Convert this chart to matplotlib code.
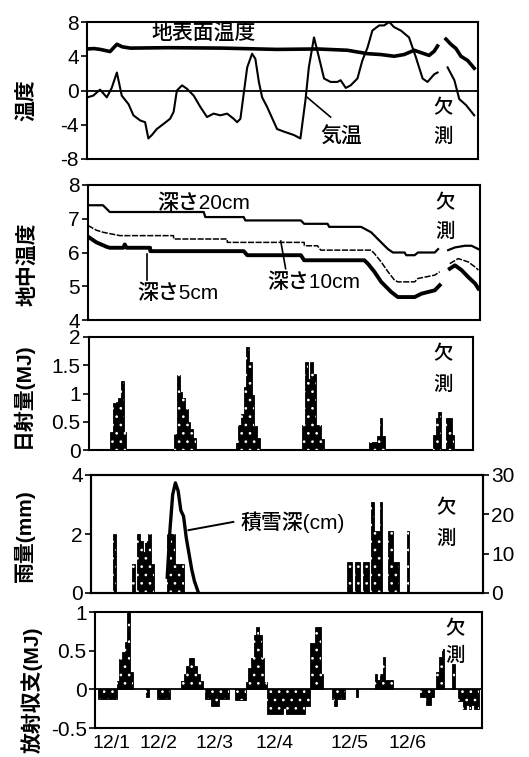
import numpy as np
import matplotlib
matplotlib.use('Agg')
import matplotlib.pyplot as plt

plt.rcParams['font.family'] = ['Liberation Sans', 'Noto Sans CJK JP', 'DejaVu Sans']
plt.rcParams['hatch.linewidth'] = 0.7

# ---------------- data (time in hours from 12/1 00:00) ----------------
air_h = [0.1, 2.3, 4.8, 7.3, 9.1, 11.0, 12.8, 15.3, 17.1, 19.6, 21.4, 22.6, 23.9, 25.7, 28.2, 30.6,
         31.9, 33.1, 35.0, 36.8, 39.3, 41.7, 44.2, 46.6, 49.1, 51.6, 54.0, 55.3, 56.5, 57.7, 59.0,
         60.8, 62.0, 63.3, 64.5, 66.3, 70.0, 72.5, 76.2, 78.6, 80.5, 81.7, 83.6, 85.4, 87.3, 89.7,
         92.2, 93.4, 95.3, 97.1, 99.6, 101.4, 103.3, 105.1, 107.6, 109.4, 111.3, 113.1, 115.6,
         118.6, 121.1, 123.6, 125.4, 127.9, 129.1, np.nan, 132.8, 135.3, 137.1, 139.6, 142.6]
air_t = [-0.8, -0.6, 0.1, -0.8, 0.3, 2.1, -0.6, -1.6, -2.9, -3.5, -3.7, -5.6, -5.2, -4.5, -3.9, -3.3,
         -2.5, 0.0, 0.6, 0.2, -0.6, -1.9, -3.1, -2.7, -2.9, -2.7, -3.3, -3.7, -3.3, -0.4, 2.7,
         4.3, 3.7, 1.0, -0.8, -1.9, -4.5, -4.8, -5.2, -5.6, -1.0, 2.7, 6.2, 3.9, 1.4, 1.0,
         1.0, 1.2, 0.3, 0.6, 1.4, 3.5, 5.0, 7.0, 7.6, 7.6, 8.0, 7.4, 7.0,
         6.2, 3.9, 1.4, 1.0, 1.9, 2.1, np.nan, 2.7, 1.2, -1.0, -1.7, -2.9]

surf_h = [0.1, 2.5, 4.9, 8.5, 11.0, 13.0, 16.0, 30.0, 50.0, 70.0, 85.0, 95.9, 99.6, 103.3, 108.2,
          113.1, 116.8, 120.5, 123.2, 126.0, 127.9, 129.1, np.nan, 132.2, 134.0, 135.9, 137.7,
          140.2, 142.6]
surf_t = [4.85, 4.9, 4.8, 4.55, 5.4, 5.1, 4.95, 5.0, 4.95, 4.8, 4.85, 4.7, 4.5, 4.3, 4.2,
          4.0, 4.2, 4.7, 4.4, 4.1, 4.6, 5.2, np.nan, 6.0, 5.4, 4.9, 4.0, 3.5, 2.6]

d20_h = [0, 5.5, 8.0, 42.5, 43.1, 57.2, 57.8, 78.2, 79.4, 88.0, 88.6, 100.3, 104.0, 107.7, 110.2,
         112.0, 116.3, 116.9, 120.0, 121.2, 127.4, 128.6, np.nan, 132.3, 134.8, 138.5, 140.9, 143.4]
d20_t = [7.4, 7.4, 7.2, 7.2, 7.05, 7.05, 6.95, 6.95, 6.85, 6.85, 6.76, 6.76, 6.6, 6.3, 6.1,
         6.0, 6.0, 5.92, 5.92, 6.0, 6.0, 6.1, np.nan, 6.07, 6.15, 6.2, 6.2, 6.1]

d10_h = [0, 3.1, 5.5, 11.7, 31.4, 31.5, 51.1, 51.2, 79.4, 79.5, 84.3, 85.5, 104.0, 105.2, 107.7,
         110.2, 112.6, 113.8, 120.0, 121.2, 127.4, 129.2, np.nan, 132.9, 136.0, 139.7, 142.2, 143.4]
d10_t = [6.8, 6.66, 6.6, 6.5, 6.5, 6.4, 6.4, 6.3, 6.3, 6.2, 6.2, 6.07, 6.07, 5.97, 5.72,
         5.43, 5.18, 5.13, 5.13, 5.23, 5.33, 5.43, np.nan, 5.67, 5.82, 5.72, 5.57, 5.48]

d5_h = [0, 3.1, 6.8, 8.0, 13.0, 13.5, 14.2, 22.8, 22.9, 57.2, 58.5, 78.2, 79.4, 101.5, 102.8,
        105.2, 107.7, 111.4, 113.8, 120.0, 122.5, 127.4, 129.2, np.nan, 132.9, 134.8, 137.2,
        139.7, 142.2, 143.4]
d5_t = [6.47, 6.3, 6.17, 6.14, 6.14, 6.24, 6.14, 6.14, 6.04, 6.04, 5.92, 5.92, 5.77, 5.77, 5.67,
        5.43, 5.13, 4.83, 4.68, 4.68, 4.78, 4.88, 5.03, np.nan, 5.52, 5.62, 5.48,
        5.27, 5.08, 4.93]

sol_h = [8, 9, 10, 11, 12, 13,
         32, 33, 34, 35, 36, 37, 38, 39,
         55, 56, 57, 58, 59, 60, 61, 62, 63,
         80, 81, 82, 83, 84, 85, 86, 87,
         105, 106, 107, 108, 109, 110,
         129, 130, 131, 134, 135, 136]
sol_v = [0.32, 0.83, 0.85, 0.92, 1.22, 0.32,
         0.28, 1.33, 1.03, 0.92, 0.72, 0.5, 0.38, 0.22,
         0.12, 0.45, 0.63, 1.12, 1.83, 1.55, 0.97, 0.42, 0.22,
         0.45, 1.55, 1.25, 1.55, 1.35, 0.45, 0.45, 0.2,
         0.15, 0.15, 0.15, 0.25, 0.57, 0.25,
         0.27, 0.57, 0.68, 0.57, 0.57, 0.27]

rain_h = [8, 15, 17, 18, 19, 20, 21, 22, 28, 29, 30, 31, 32, 33,
          94, 95, 97, 98, 100, 101, 103, 104, 105, 106, 109, 110, 111, 112, 116]
rain_v = [2.0, 1.0, 2.0, 1.75, 1.4, 1.75, 2.0, 1.0, 2.0, 2.0, 2.0, 1.0, 1.0, 1.0,
          1.05, 1.05, 1.05, 1.05, 1.05, 1.05, 3.1, 2.1, 2.1, 3.1, 2.1, 2.1, 1.05, 1.05, 2.1]

snow_h = [28, 29, 30, 31, 32, 33, 34, 35, 36, 37, 38, 39.5]
snow_cm = [4, 16, 25, 28, 26, 21, 19.5, 14, 10, 6, 3, 0]

rad_h = [1, 2, 3, 4, 5, 6, 7,
         8, 9, 10, 11, 12, 13,
         19, 23, 24, 25, 26, 27,
         32, 33, 34, 35, 36, 37, 38, 39,
         41, 42, 43, 44, 45, 46, 47, 48, 49, 52, 53, 54, 55,
         56, 57, 58, 59, 60, 61, 62, 63,
         64, 65, 66, 67, 68, 69, 70, 71, 72, 73, 74, 75, 76, 77, 78, 79,
         80, 81, 82, 83, 84,
         88, 89, 90, 91, 92, 97,
         104, 105, 106, 107, 108, 109, 110,
         121, 122, 123, 124, 125,
         127, 128, 129, 133,
         135, 136, 137, 138, 139, 140, 141, 142]
rad_v = [-0.12, -0.12, -0.12, -0.12, -0.12, -0.12, -0.12,
         0.11, 0.39, 0.48, 0.61, 1.0, 0.22,
         -0.1, -0.12, -0.12, -0.12, -0.12, -0.12,
         0.11, 0.2, 0.3, 0.4, 0.4, 0.3, 0.2, 0.11,
         -0.13, -0.13, -0.22, -0.22, -0.22, -0.13, -0.13, -0.13, -0.13, -0.14, -0.14, -0.14, -0.14,
         0.1, 0.28, 0.4, 0.7, 0.8, 0.7, 0.4, 0.1,
         -0.32, -0.32, -0.32, -0.32, -0.32, -0.32, -0.24, -0.32, -0.32, -0.32, -0.32, -0.32,
         -0.32, -0.32, -0.22, -0.22,
         0.6, 0.6, 0.8, 0.8, 0.2,
         -0.12, -0.22, -0.12, -0.12, -0.12, -0.1,
         0.2, 0.12, 0.2, 0.42, 0.12, 0.12, 0.12,
         -0.1, -0.1, -0.2, -0.2, -0.1,
         0.22, 0.42, 0.52, 0.33,
         -0.15, -0.15, -0.25, -0.2, -0.25, -0.2, -0.25, -0.25]

date_labels = ['12/1', '12/2', '12/3', '12/4', '12/5', '12/6']
date_pos = [0.25, 0.99, 1.86, 2.78, 3.94, 4.84]   # days, where the labels sit

# ---------------- figure ----------------
W, H = 529, 757
fig = plt.figure(figsize=(W / 100, H / 100), dpi=100)
TICK_FS = 15


def add_ax(l, t, r, b):
    return fig.add_axes([l / W, 1 - b / H, (r - l) / W, (b - t) / H])


def style(ax, yt, ylab, yl):
    ax.set_xlim(0, 6)
    ax.set_ylim(*yl)
    ax.set_yticks(yt)
    ax.set_yticklabels(ylab)
    ax.tick_params(axis='y', direction='out', length=4, width=1.2, labelsize=TICK_FS, pad=2)
    ax.tick_params(axis='x', length=0, labelbottom=False)
    for s in ax.spines.values():
        s.set_linewidth(1.5)


def days(h):
    return np.asarray(h, dtype=float) / 24.0


def stip_bars(ax, h, v):
    x = days(h)
    ax.bar(x, v, width=1 / 24, align='edge', color='black', edgecolor='black',
           linewidth=0.6, zorder=2)
    ax.bar(x, v, width=1 / 24, align='edge', color='none', edgecolor='white',
           hatch='..', linewidth=0, zorder=3)


def ylabel(x, y, s):
    fig.text(x / W, 1 - y / H, s, rotation=90, ha='center', va='center',
             fontsize=15, fontweight='bold')


def kesoku(ax, x, y1, y2, fs=14):
    ax.text(x, y1, '欠', ha='center', va='center', fontsize=fs, fontweight='medium', zorder=5)
    ax.text(x, y2, '測', ha='center', va='center', fontsize=fs, fontweight='medium', zorder=5)


ANN = dict(ha='center', va='center', fontsize=15, fontweight='medium')

# Panel 1: temperature
ax1 = add_ax(87, 22, 478, 159)
style(ax1, [-8, -4, 0, 4, 8], ['-8', '-4', '0', '4', '8'], (-8, 8))
ax1.axhline(0, color='black', lw=1.3)
ax1.plot(days(surf_h), surf_t, color='black', lw=2.6)
ax1.plot(days(air_h), air_t, color='black', lw=1.5)
ax1.text(43 / 24, 6.6, '地表面温度', **ANN)
ax1.plot([81.1 / 24, 89.7 / 24], [-0.8, -3.1], color='black', lw=1.2)
ax1.text(93.7 / 24, -5.4, '気温', **ANN)
kesoku(ax1, 131 / 24, -2.1, -5.4)
ylabel(27, 100, '温度')

# Panel 2: soil temperature
ax2 = add_ax(88, 185, 480, 320)
style(ax2, [4, 5, 6, 7, 8], ['4', '5', '6', '7', '8'], (4, 8))
ax2.plot(days(d20_h), d20_t, color='black', lw=1.6)
ax2.plot(days(d10_h), d10_t, color='black', lw=1.1, ls=(0, (4, 1)))
ax2.plot(days(d5_h), d5_t, color='black', lw=2.8)
ax2.text(42.5 / 24, 7.46, '深さ20cm', **ANN)
ax2.text(83.1 / 24, 5.13, '深さ10cm', **ANN)
ax2.text(32.9 / 24, 4.78, '深さ5cm', **ANN)
ax2.plot([21.5 / 24, 21.5 / 24], [5.97, 5.18], color='black', lw=1.2)
ax2.plot([70.8 / 24, 72.6 / 24], [6.34, 5.52], color='black', lw=1.2)
kesoku(ax2, 131 / 24, 7.46, 6.61)
ylabel(28, 264, '地中温度')

# Panel 3: solar radiation
ax3 = add_ax(89, 337, 473, 450)
style(ax3, [0, 0.5, 1, 1.5, 2], ['0', '0.5', '1', '1.5', '2'], (0, 2))
stip_bars(ax3, sol_h, sol_v)
kesoku(ax3, 132.8 / 24, 1.7, 1.15)
ylabel(22, 395, '日射量(MJ)')

# Panel 4: precipitation + snow depth
ax4 = add_ax(91, 475, 483, 593)
style(ax4, [0, 2, 4], ['0', '2', '4'], (0, 4))
stip_bars(ax4, rain_h, rain_v)
ax4r = ax4.twinx()
ax4r.set_ylim(0, 30)
ax4r.set_yticks([0, 10, 20, 30])
ax4r.set_yticklabels(['0', '10', '20', '30'])
ax4r.tick_params(axis='y', direction='out', length=4, width=1.2, labelsize=TICK_FS, pad=2)
for s in ax4r.spines.values():
    s.set_linewidth(1.5)
ax4r.plot(days(snow_h), snow_cm, color='black', lw=2.4, zorder=4)
ax4.plot([35.8 / 24, 52.3 / 24], [2.13, 2.41], color='black', lw=1.4, zorder=4)
ax4.text(74 / 24, 2.41, '積雪深(cm)', **ANN)
kesoku(ax4, 130.6 / 24, 2.87, 1.85)
ylabel(25, 537, '雨量(mm)')

# Panel 5: net radiation
ax5 = add_ax(95, 612, 482, 728)
style(ax5, [-0.5, 0, 0.5, 1], ['-0.5', '0', '0.5', '1'], (-0.5, 1))
ax5.axhline(0, color='black', lw=1.3, zorder=1)
stip_bars(ax5, rad_h, rad_v)
kesoku(ax5, 134 / 24, 0.78, 0.43)
ax5.set_xticks(date_pos)
ax5.set_xticklabels(date_labels)
ax5.tick_params(axis='x', length=0, labelbottom=True, labelsize=14, pad=5)
ylabel(32, 690, '放射収支(MJ)')

fig.savefig('out.png', dpi=100)
